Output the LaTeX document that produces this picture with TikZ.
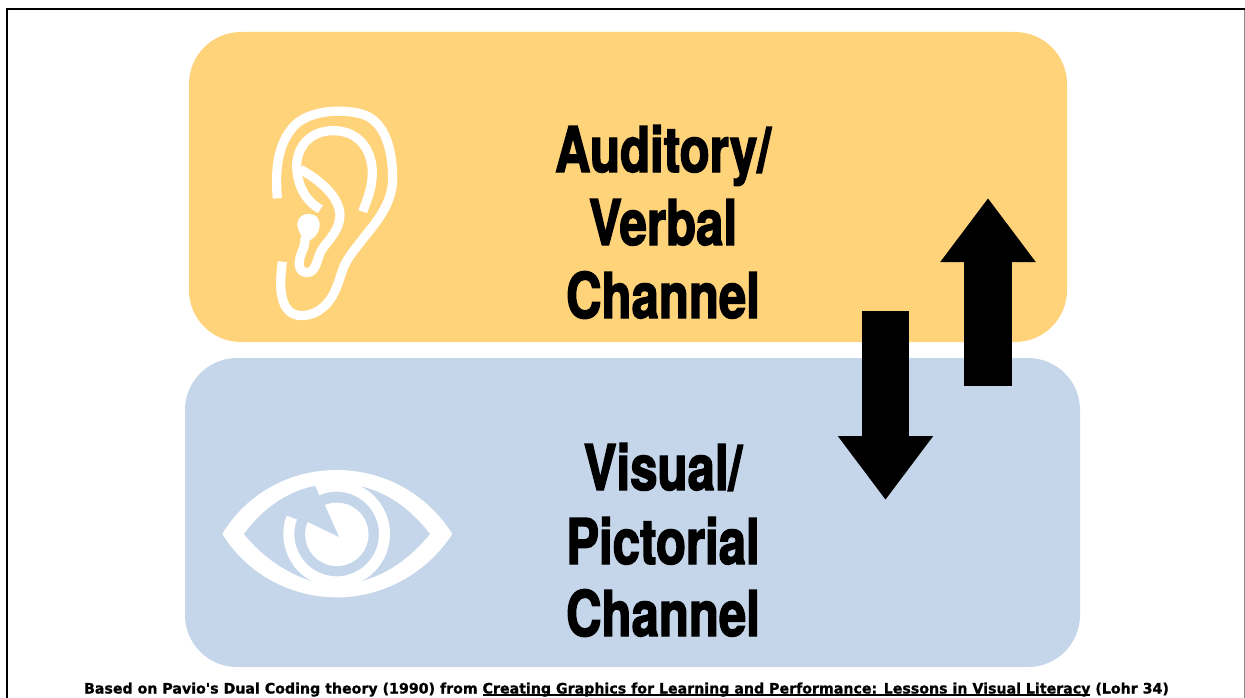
\documentclass[tikz,border=0pt]{standalone}
\usepackage{fontspec}
\usetikzlibrary{arrows.meta}
\newfontfamily\hdfont[BoldFeatures={FakeStretch=0.78,FakeBold=2.2}]{TeX Gyre Heros}
\newfontfamily\ftfont[FakeStretch=0.985,FakeBold=1]{DejaVu Sans Bold}
\newcommand\footul[1]{\leavevmode\setbox0\hbox{#1}\rlap{\rule[-2.6pt]{\wd0}{1.7pt}}\box0 }
\definecolor{audyellow}{HTML}{FFD37A}
\definecolor{visblue}{HTML}{C5D6EA}
\tikzset{
  x=1pt,y=-1pt,
  chanbox/.style={rounded corners=52pt,inner sep=0pt,outer sep=0pt},
  heading/.style={font=\hdfont\bfseries\fontsize{63}{63}\selectfont,anchor=base,inner sep=0pt},
  footnote/.style={font=\ftfont\fontsize{14.4}{15}\selectfont,anchor=base,inner sep=0pt},
  whiteline/.style={draw=white,line width=9.2pt,line cap=butt,line join=round},
  bigarrow/.style={line width=47.5pt,-{Triangle[width=91pt,length=64pt]},black},
}
\begin{document}
\begin{tikzpicture}
\useasboundingbox (0,0) rectangle (1245,698);
\fill[white] (0,0) rectangle (1245,698);
\draw[black,line width=2.6pt] (7,700) -- (7,9) -- (1247,9);
\draw[black!45,line width=0.8pt] (1244.6,10) -- (1244.6,698);
% channel boxes
\fill[audyellow,chanbox] (189,32) rectangle (1067,342);
\fill[visblue,chanbox] (185,358) rectangle (1080,667);
% headings
\node[heading] (a1) at (663,172) {Auditory/};
\node[heading] (a2) at (663,245) {Verbal};
\node[heading] (a3) at (663,318) {Channel};
\node[heading] (v1) at (663,490) {Visual/};
\node[heading] (v2) at (663,564) {Pictorial};
\node[heading] (v3) at (663,636) {Channel};
% arrows
\coordinate (downstart) at (885.5,311);
\coordinate (downend) at (885.5,500);
\coordinate (upstart) at (988,386);
\coordinate (upend) at (988,198);
\draw[bigarrow] (downstart) -- (downend);
\draw[bigarrow] (upstart) -- (upend);
% ear (coordinates of a 3x enlargement, origin at 240,90)
\begin{scope}[shift={(240,90)},x=0.3333pt,y=-0.3333pt]
\draw[whiteline] (112,325) .. controls (105,240) and (112,160) .. (165,105)
  .. controls (210,62) and (300,55) .. (365,72)
  .. controls (430,90) and (458,170) .. (458,265)
  .. controls (458,340) and (410,395) .. (370,445)
  .. controls (340,485) and (320,505) .. (308,540)
  .. controls (290,590) and (280,640) .. (225,668)
  .. controls (185,685) and (145,680) .. (130,635)
  .. controls (118,600) and (122,560) .. (127,515);
\draw[whiteline] (368,365) .. controls (385,320) and (398,290) .. (397,240)
  .. controls (392,170) and (350,122) .. (280,122)
  .. controls (210,122) and (170,170) .. (170,230)
  .. controls (172,290) and (200,335) .. (241,358);
\draw[whiteline] (181,238) .. controls (230,265) and (298,315) .. (300,375)
  .. controls (300,420) and (265,450) .. (245,480)
  .. controls (230,505) and (230,548) .. (200,548)
  .. controls (170,545) and (175,510) .. (188,480)
  .. controls (195,465) and (195,455) .. (195,440);
\fill[white] (205,372) .. controls (235,372) and (243,395) .. (238,415)
  .. controls (232,438) and (215,450) .. (205,452)
  .. controls (190,458) and (170,415) .. (172,400)
  .. controls (175,380) and (190,372) .. (205,372) -- cycle;
\end{scope}
% eye (coordinates of a 3x enlargement, origin at 210,460)
\begin{scope}[shift={(210,460)},x=0.3333pt,y=-0.3333pt]
\fill[white] (37,222) .. controls (110,100) and (240,30) .. (380,30)
  .. controls (520,30) and (650,100) .. (727,222)
  .. controls (650,340) and (520,412) .. (380,412)
  .. controls (240,412) and (110,340) .. (37,222) -- cycle;
\fill[visblue] (102,222) .. controls (170,130) and (250,90) .. (315,78)
  -- (447,78) .. controls (530,95) and (600,145) .. (660,222)
  .. controls (600,295) and (530,345) .. (447,365)
  -- (312,365) .. controls (240,345) and (160,295) .. (102,222) -- cycle;
% iris ring with gap
\fill[white] (380,222) ++(114:53.33pt) arc[start angle=114,end angle=-200,radius=53.33pt]
  -- ++(-20:11pt) arc[start angle=-200,end angle=114,radius=42.33pt] -- cycle;
% pupil
\fill[white] (388,232) -- (345,135)
  arc[start angle=112,end angle=-203,radius=31.67pt] -- cycle;
\end{scope}
% footer
\node[footnote] (foot) at (626.5,693.5) {Based on Pavio's Dual Coding theory (1990) from \footul{Creating Graphics for Learning and Performance: Lessons in Visual Literacy} (Lohr 34)};
\end{tikzpicture}
\end{document}
